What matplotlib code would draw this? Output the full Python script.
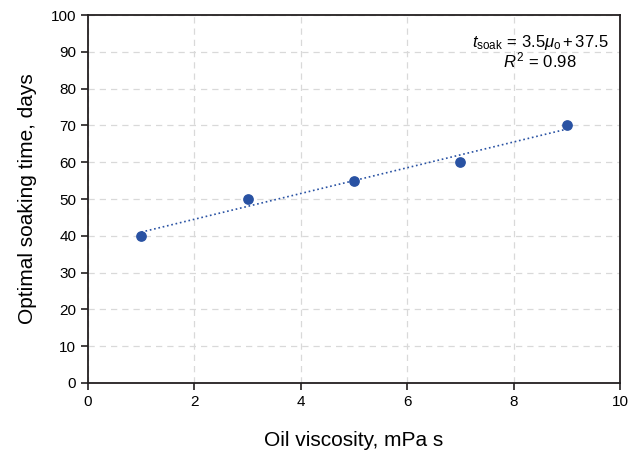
import numpy as np
import matplotlib.pyplot as plt

plt.rcParams['font.family'] = ['Liberation Sans', 'DejaVu Sans']
plt.rcParams['mathtext.fontset'] = 'custom'
plt.rcParams['mathtext.it'] = 'Liberation Sans:italic'
plt.rcParams['mathtext.rm'] = 'Liberation Sans'

viscosity = [1, 3, 5, 7, 9]
soak_days = [40, 50, 55, 60, 70]

fig = plt.figure(figsize=(6.41, 4.62), dpi=100)
ax = fig.add_axes([0.1373, 0.171, 0.83, 0.7965])

ax.scatter(viscosity, soak_days, s=45, color='#2952a3', zorder=3)

# linear trend line
k, b = np.polyfit(viscosity, soak_days, 1)
xs = np.array([min(viscosity), max(viscosity)])
ax.plot(xs, k * xs + b, ':', color='#2952a3', lw=1.2, zorder=2)

ax.set_xlim(0, 10)
ax.set_ylim(0, 100)
ax.set_xticks(range(0, 11, 2))
ax.set_yticks(range(0, 101, 10))
ax.grid(True, ls=(0, (5, 4)), color='#d9d9d9', lw=0.9)
ax.set_axisbelow(True)
for s in ax.spines.values():
    s.set_color('#231f20')
    s.set_linewidth(1.3)
ax.tick_params(direction='out', length=5, width=1.2, labelsize=11, color='#231f20')

ax.set_xlabel('Oil viscosity, mPa s', fontsize=15, labelpad=16)
ax.set_ylabel('Optimal soaking time, days', fontsize=15, labelpad=10)

ax.text(0.85, 0.925, r'$t_{\mathrm{soak}}\,\mathrm{=}\,3.5\mu_{\mathrm{o}}\,\mathrm{+}\,37.5$',
        transform=ax.transAxes, ha='center', va='center', fontsize=12)
ax.text(0.85, 0.876, r'$R^2\,\mathrm{=}\,0.98$',
        transform=ax.transAxes, ha='center', va='center', fontsize=12)

fig.savefig('out.png', dpi=100)
